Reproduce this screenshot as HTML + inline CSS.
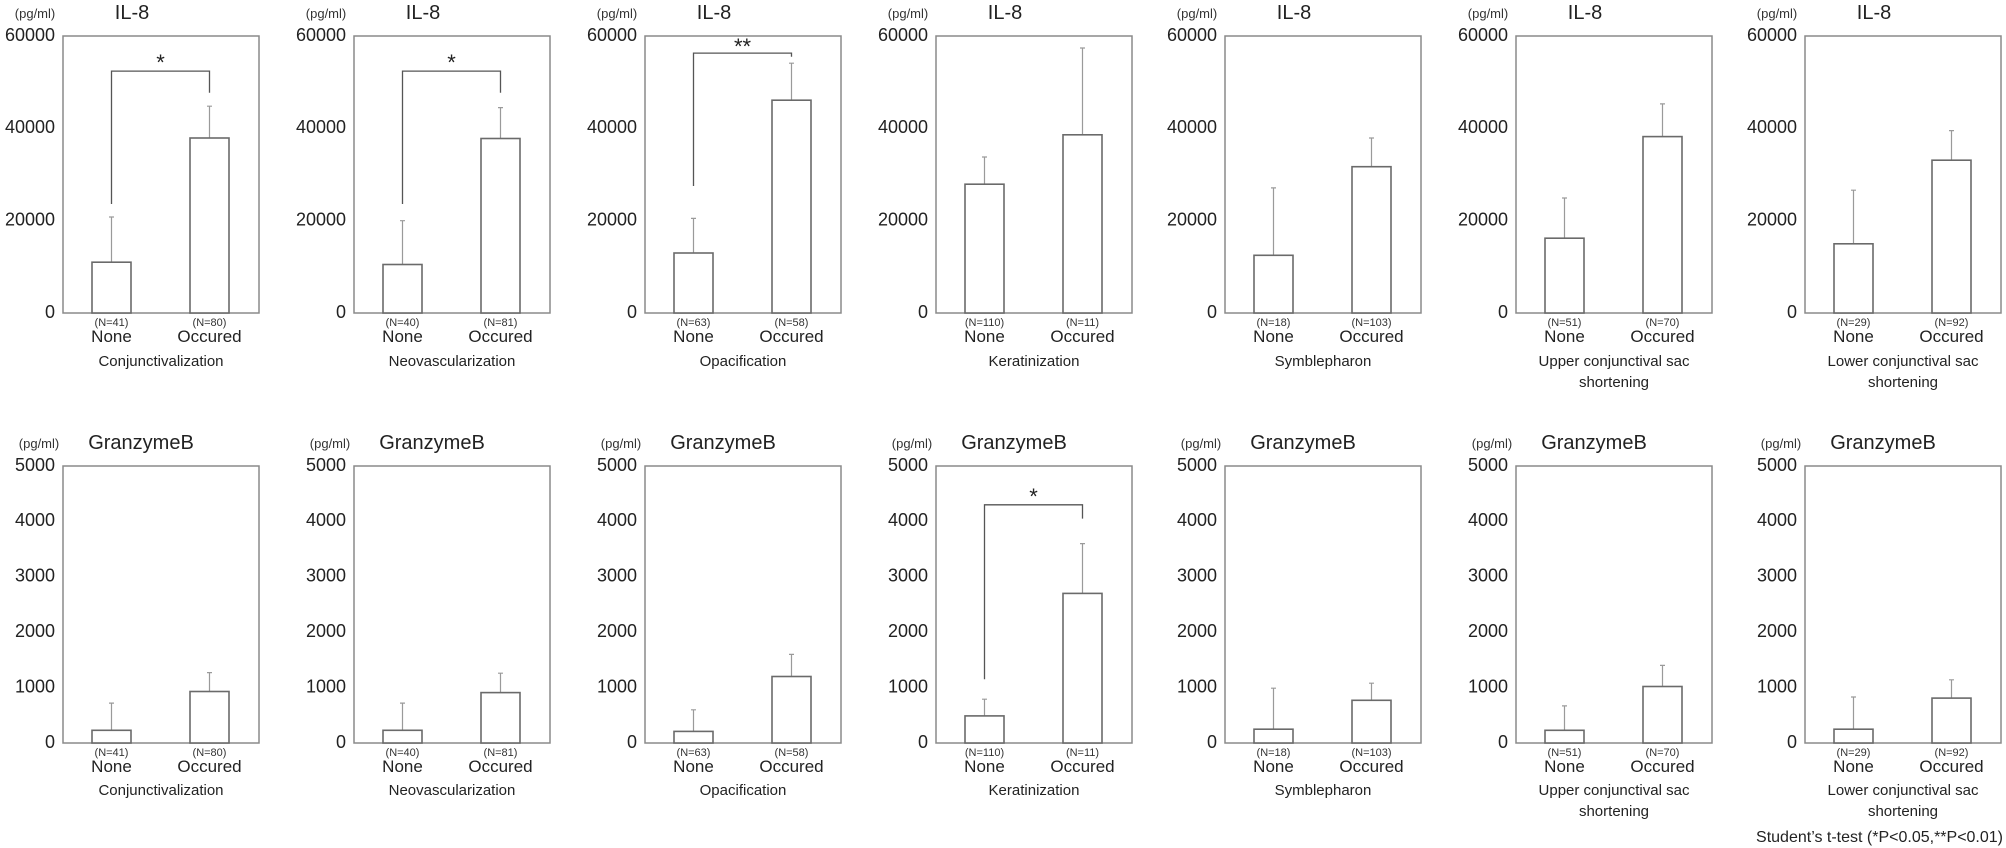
<!DOCTYPE html>
<html><head><meta charset="utf-8"><style>
html,body{margin:0;padding:0;background:#fff;}
svg{display:block;font-family:"Liberation Sans",sans-serif;}
.bx{fill:none;stroke:#8a8a8a;stroke-width:1.5}
.bar{fill:#fff;stroke:#6a6a6a;stroke-width:1.6}
.er{stroke:#9a9a9a;stroke-width:1.2;fill:none}
.br{stroke:#555;stroke-width:1.3;fill:none}
.tk{font-size:18px;fill:#222;text-anchor:end;dominant-baseline:middle}
.u{font-size:13px;fill:#333;text-anchor:middle}
.t{font-size:20px;fill:#222;text-anchor:middle}
.n{font-size:11px;fill:#333;text-anchor:middle}
.g{font-size:17px;fill:#222;text-anchor:middle}
.c{font-size:15px;fill:#222;text-anchor:middle}
.s{font-size:22px;fill:#222;text-anchor:middle}
</style></head><body>
<svg width="2006" height="848" viewBox="0 0 2006 848">
<defs>
<g id="top">
<rect class="bx" x="0" y="0" width="196" height="277"/>
<text class="tk" x="-8" y="0">60000</text><text class="tk" x="-8" y="92.3">40000</text><text class="tk" x="-8" y="184.7">20000</text><text class="tk" x="-8" y="277">0</text>
<text class="u" x="-28" y="-18">(pg/ml)</text><text class="t" x="69" y="-17">IL-8</text>
</g>
<g id="bot">
<rect class="bx" x="0" y="0" width="196" height="277"/>
<text class="tk" x="-8" y="0">5000</text><text class="tk" x="-8" y="55.4">4000</text><text class="tk" x="-8" y="110.8">3000</text><text class="tk" x="-8" y="166.2">2000</text><text class="tk" x="-8" y="221.6">1000</text><text class="tk" x="-8" y="277">0</text>
<text class="u" x="-24" y="-18">(pg/ml)</text><text class="t" x="78" y="-17">GranzymeB</text>
</g>
</defs>

<!-- TOP ROW -->
<g transform="translate(63,36)"><use href="#top"/>
<path class="er" d="M48.5 226.2V181M46 181h5M146.5 102V70.2M144 70.2h5"/>
<rect class="bar" x="29" y="226.2" width="39" height="50.8"/><rect class="bar" x="127" y="102" width="39" height="175"/>
<path class="br" d="M48.5 168V35.1H146.5V56.8"/><text class="s" x="97.5" y="34">*</text>
<text class="n" x="48.5" y="290">(N=41)</text><text class="n" x="146.5" y="290">(N=80)</text>
<text class="g" x="48.5" y="306">None</text><text class="g" x="146.5" y="306">Occured</text>
<text class="c" x="98" y="330">Conjunctivalization</text></g>

<g transform="translate(354,36)"><use href="#top"/>
<path class="er" d="M48.5 228.5V184.7M46 184.7h5M146.5 102.5V71.6M144 71.6h5"/>
<rect class="bar" x="29" y="228.5" width="39" height="48.5"/><rect class="bar" x="127" y="102.5" width="39" height="174.5"/>
<path class="br" d="M48.5 168V35.1H146.5V56.8"/><text class="s" x="97.5" y="34">*</text>
<text class="n" x="48.5" y="290">(N=40)</text><text class="n" x="146.5" y="290">(N=81)</text>
<text class="g" x="48.5" y="306">None</text><text class="g" x="146.5" y="306">Occured</text>
<text class="c" x="98" y="330">Neovascularization</text></g>

<g transform="translate(645,36)"><use href="#top"/>
<path class="er" d="M48.5 217V182.4M46 182.4h5M146.5 64.2V27.2M144 27.2h5"/>
<rect class="bar" x="29" y="217" width="39" height="60"/><rect class="bar" x="127" y="64.2" width="39" height="212.8"/>
<path class="br" d="M48.5 150V17.1H146.5V20.8"/><text class="s" x="97.5" y="18">**</text>
<text class="n" x="48.5" y="290">(N=63)</text><text class="n" x="146.5" y="290">(N=58)</text>
<text class="g" x="48.5" y="306">None</text><text class="g" x="146.5" y="306">Occured</text>
<text class="c" x="98" y="330">Opacification</text></g>

<g transform="translate(936,36)"><use href="#top"/>
<path class="er" d="M48.5 148.2V121M46 121h5M146.5 98.8V12M144 12h5"/>
<rect class="bar" x="29" y="148.2" width="39" height="128.8"/><rect class="bar" x="127" y="98.8" width="39" height="178.2"/>
<text class="n" x="48.5" y="290">(N=110)</text><text class="n" x="146.5" y="290">(N=11)</text>
<text class="g" x="48.5" y="306">None</text><text class="g" x="146.5" y="306">Occured</text>
<text class="c" x="98" y="330">Keratinization</text></g>

<g transform="translate(1225,36)"><use href="#top"/>
<path class="er" d="M48.5 219.3V151.9M46 151.9h5M146.5 130.7V102M144 102h5"/>
<rect class="bar" x="29" y="219.3" width="39" height="57.7"/><rect class="bar" x="127" y="130.7" width="39" height="146.3"/>
<text class="n" x="48.5" y="290">(N=18)</text><text class="n" x="146.5" y="290">(N=103)</text>
<text class="g" x="48.5" y="306">None</text><text class="g" x="146.5" y="306">Occured</text>
<text class="c" x="98" y="330">Symblepharon</text></g>

<g transform="translate(1516,36)"><use href="#top"/>
<path class="er" d="M48.5 202.2V162M46 162h5M146.5 100.6V67.9M144 67.9h5"/>
<rect class="bar" x="29" y="202.2" width="39" height="74.8"/><rect class="bar" x="127" y="100.6" width="39" height="176.4"/>
<text class="n" x="48.5" y="290">(N=51)</text><text class="n" x="146.5" y="290">(N=70)</text>
<text class="g" x="48.5" y="306">None</text><text class="g" x="146.5" y="306">Occured</text>
<text class="c" x="98" y="330">Upper conjunctival sac</text><text class="c" x="98" y="351">shortening</text></g>

<g transform="translate(1805,36)"><use href="#top"/>
<path class="er" d="M48.5 207.8V154.2M46 154.2h5M146.5 124.2V94.6M144 94.6h5"/>
<rect class="bar" x="29" y="207.8" width="39" height="69.2"/><rect class="bar" x="127" y="124.2" width="39" height="152.8"/>
<text class="n" x="48.5" y="290">(N=29)</text><text class="n" x="146.5" y="290">(N=92)</text>
<text class="g" x="48.5" y="306">None</text><text class="g" x="146.5" y="306">Occured</text>
<text class="c" x="98" y="330">Lower conjunctival sac</text><text class="c" x="98" y="351">shortening</text></g>

<!-- BOTTOM ROW -->
<g transform="translate(63,466)"><use href="#bot"/>
<path class="er" d="M48.5 264.3V237.1M46 237.1h5M146.5 225.5V206.6M144 206.6h5"/>
<rect class="bar" x="29" y="264.3" width="39" height="12.7"/><rect class="bar" x="127" y="225.5" width="39" height="51.5"/>
<text class="n" x="48.5" y="290">(N=41)</text><text class="n" x="146.5" y="290">(N=80)</text>
<text class="g" x="48.5" y="306">None</text><text class="g" x="146.5" y="306">Occured</text>
<text class="c" x="98" y="329">Conjunctivalization</text></g>

<g transform="translate(354,466)"><use href="#bot"/>
<path class="er" d="M48.5 264.3V237.1M46 237.1h5M146.5 226.6V207.2M144 207.2h5"/>
<rect class="bar" x="29" y="264.3" width="39" height="12.7"/><rect class="bar" x="127" y="226.6" width="39" height="50.4"/>
<text class="n" x="48.5" y="290">(N=40)</text><text class="n" x="146.5" y="290">(N=81)</text>
<text class="g" x="48.5" y="306">None</text><text class="g" x="146.5" y="306">Occured</text>
<text class="c" x="98" y="329">Neovascularization</text></g>

<g transform="translate(645,466)"><use href="#bot"/>
<path class="er" d="M48.5 265.4V243.8M46 243.8h5M146.5 210.5V188.4M144 188.4h5"/>
<rect class="bar" x="29" y="265.4" width="39" height="11.6"/><rect class="bar" x="127" y="210.5" width="39" height="66.5"/>
<text class="n" x="48.5" y="290">(N=63)</text><text class="n" x="146.5" y="290">(N=58)</text>
<text class="g" x="48.5" y="306">None</text><text class="g" x="146.5" y="306">Occured</text>
<text class="c" x="98" y="329">Opacification</text></g>

<g transform="translate(936,466)"><use href="#bot"/>
<path class="er" d="M48.5 249.9V233.2M46 233.2h5M146.5 127.4V77.6M144 77.6h5"/>
<rect class="bar" x="29" y="249.9" width="39" height="27.1"/><rect class="bar" x="127" y="127.4" width="39" height="149.6"/>
<path class="br" d="M48.5 213.3V38.8H146.5V52.6"/><text class="s" x="97.5" y="38">*</text>
<text class="n" x="48.5" y="290">(N=110)</text><text class="n" x="146.5" y="290">(N=11)</text>
<text class="g" x="48.5" y="306">None</text><text class="g" x="146.5" y="306">Occured</text>
<text class="c" x="98" y="329">Keratinization</text></g>

<g transform="translate(1225,466)"><use href="#bot"/>
<path class="er" d="M48.5 263.2V222.2M46 222.2h5M146.5 234.3V217.2M144 217.2h5"/>
<rect class="bar" x="29" y="263.2" width="39" height="13.8"/><rect class="bar" x="127" y="234.3" width="39" height="42.7"/>
<text class="n" x="48.5" y="290">(N=18)</text><text class="n" x="146.5" y="290">(N=103)</text>
<text class="g" x="48.5" y="306">None</text><text class="g" x="146.5" y="306">Occured</text>
<text class="c" x="98" y="329">Symblepharon</text></g>

<g transform="translate(1516,466)"><use href="#bot"/>
<path class="er" d="M48.5 264.3V239.9M46 239.9h5M146.5 220.5V199.4M144 199.4h5"/>
<rect class="bar" x="29" y="264.3" width="39" height="12.7"/><rect class="bar" x="127" y="220.5" width="39" height="56.5"/>
<text class="n" x="48.5" y="290">(N=51)</text><text class="n" x="146.5" y="290">(N=70)</text>
<text class="g" x="48.5" y="306">None</text><text class="g" x="146.5" y="306">Occured</text>
<text class="c" x="98" y="329">Upper conjunctival sac</text><text class="c" x="98" y="350">shortening</text></g>

<g transform="translate(1805,466)"><use href="#bot"/>
<path class="er" d="M48.5 263.2V231M46 231h5M146.5 232.1V213.8M144 213.8h5"/>
<rect class="bar" x="29" y="263.2" width="39" height="13.8"/><rect class="bar" x="127" y="232.1" width="39" height="44.9"/>
<text class="n" x="48.5" y="290">(N=29)</text><text class="n" x="146.5" y="290">(N=92)</text>
<text class="g" x="48.5" y="306">None</text><text class="g" x="146.5" y="306">Occured</text>
<text class="c" x="98" y="329">Lower conjunctival sac</text><text class="c" x="98" y="350">shortening</text></g>

<text x="2003" y="842" style="font-size:16px;fill:#222;text-anchor:end">Student’s t-test  (*P&lt;0.05,**P&lt;0.01)</text>
</svg>
</body></html>
